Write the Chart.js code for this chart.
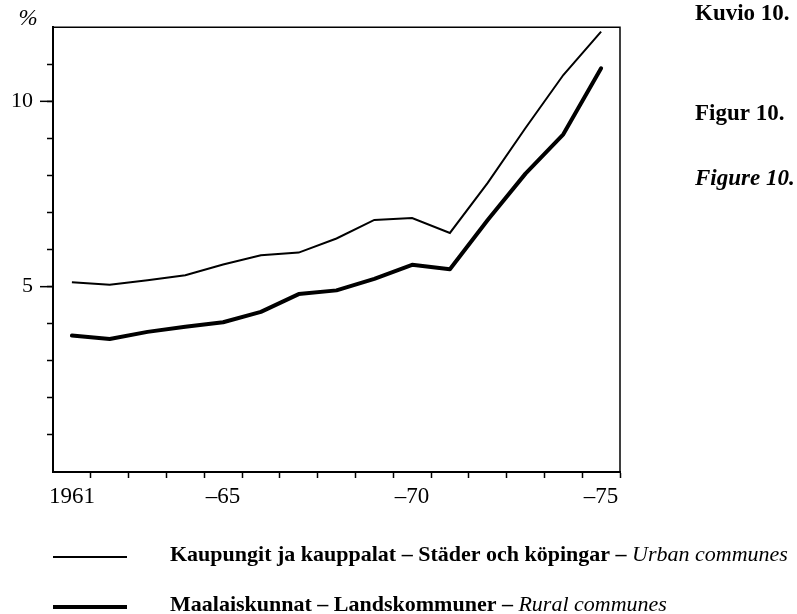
<!DOCTYPE html>
<html>
<head>
<meta charset="utf-8">
<script src="https://cdn.jsdelivr.net/npm/chart.js@4"></script>
<style>
  html, body { margin: 0; padding: 0; background: #fff; }
  canvas { display: block; }
</style>
</head>
<body>
<canvas id="lineChart" width="797" height="614"></canvas>
<script>
var years = ['1961', '1962', '1963', '1964', '1965', '1966', '1967', '1968',
             '1969', '1970', '1971', '1972', '1973', '1974', '1975'];
var xTickLabels = ['1961', '', '', '', '\u201365', '', '', '', '', '\u201370', '', '', '', '', '\u201375'];
var yTickValues = [1, 2, 3, 4, 5, 6, 7, 8, 9, 10, 11];
var yTickLabels = { 5: '5', 10: '10' };

// urban communes (thin line)
var urban = [5.12, 5.05, 5.17, 5.31, 5.6, 5.85, 5.92, 6.3, 6.8, 6.85, 6.45, 7.8, 9.28, 10.71, 11.88];
// rural communes (thick line)
var rural = [3.68, 3.59, 3.78, 3.92, 4.04, 4.32, 4.8, 4.9, 5.21, 5.59, 5.47, 6.8, 8.05, 9.11, 10.89];

var seriesLabels = [
  [['Kaupungit ja kauppalat \u2013 St\u00e4der och k\u00f6pingar \u2013 ', 'bold'], ['Urban communes', 'italic']],
  [['Maalaiskunnat \u2013 Landskommuner \u2013 ', 'bold'], ['Rural communes', 'italic']]
];
var figureTitles = [['Kuvio 10.', 'bold'], ['Figur 10.', 'bold'], ['Figure 10.', 'italic bold']];

var serif = '"Liberation Serif", "DejaVu Serif", serif';

var extras = {
  id: 'extras',
  afterDraw: function (chart) {
    var c = chart.ctx, a = chart.chartArea, ys = chart.scales.y;
    c.save();
    c.strokeStyle = '#000';
    // top and right frame
    c.lineWidth = 1.5;
    c.beginPath();
    c.moveTo(a.left, a.top);
    c.lineTo(a.right, a.top);
    c.lineTo(a.right, a.bottom);
    c.stroke();
    // longer ticks at labelled values
    Object.keys(yTickLabels).forEach(function (v) {
      var py = ys.getPixelForValue(+v);
      c.beginPath();
      c.moveTo(a.left - 13, py);
      c.lineTo(a.left, py);
      c.stroke();
    });
    c.fillStyle = '#000';
    c.textBaseline = 'middle';
    // unit
    c.font = 'italic 23px ' + serif;
    c.textAlign = 'center';
    c.fillText('%', 28, 19);
    // figure titles on the right
    c.textAlign = 'left';
    var ty = [14, 114, 179];
    figureTitles.forEach(function (t, i) {
      c.font = t[1] + ' 23px ' + serif;
      c.fillText(t[0], 695, ty[i]);
    });
    // legend
    var ly = [555, 605];
    chart.data.datasets.forEach(function (ds, i) {
      c.lineWidth = ds.borderWidth;
      c.beginPath();
      c.moveTo(53, ly[i] + 2);
      c.lineTo(127, ly[i] + 2);
      c.stroke();
      var x = 170;
      seriesLabels[i].forEach(function (part) {
        c.font = part[1] + ' 22px ' + serif;
        c.fillText(part[0], x, ly[i]);
        x += c.measureText(part[0]).width;
      });
    });
    c.restore();
  }
};

var ctx = document.getElementById('lineChart').getContext('2d');
var myChart = new Chart(ctx, {
  type: 'line',
  data: {
    labels: years,
    datasets: [{
      label: 'Urban communes',
      data: urban,
      borderColor: '#000',
      borderWidth: 2,
      pointRadius: 0,
      tension: 0,
      fill: false
    }, {
      label: 'Rural communes',
      data: rural,
      borderColor: '#000',
      borderWidth: 4,
      pointRadius: 0,
      tension: 0,
      fill: false,
      borderJoinStyle: 'round',
      borderCapStyle: 'round'
    }]
  },
  options: {
    responsive: false,
    animation: false,
    layout: { padding: { top: 19, right: 177, left: 0, bottom: 0 } },
    plugins: {
      legend: { display: false },
      tooltip: { enabled: false }
    },
    scales: {
      x: {
        type: 'category',
        offset: true,
        afterFit: function (scale) { scale.height = 142; },
        border: { display: true, color: '#000', width: 2 },
        grid: {
          offset: true,
          drawOnChartArea: false,
          drawTicks: true,
          tickLength: 6,
          tickWidth: 1.5,
          tickColor: function (context) {
            return (context.index === 0 || context.index >= years.length) ? 'rgba(0,0,0,0)' : '#000';
          }
        },
        ticks: {
          autoSkip: false,
          maxRotation: 0,
          padding: 5,
          color: '#000',
          font: { family: serif, size: 23 },
          callback: function (value, index) { return xTickLabels[index]; }
        }
      },
      y: {
        type: 'linear',
        min: 0,
        max: 12,
        afterFit: function (scale) { scale.width = 53; },
        afterBuildTicks: function (scale) {
          scale.ticks = yTickValues.map(function (v) { return { value: v }; });
        },
        border: { display: true, color: '#000', width: 2 },
        grid: {
          drawOnChartArea: false,
          drawTicks: true,
          tickLength: 6,
          tickWidth: 1.5,
          tickColor: '#000'
        },
        ticks: {
          padding: 14,
          color: '#000',
          font: { family: serif, size: 22 },
          callback: function (value) { return yTickLabels[value] || ''; }
        }
      }
    }
  },
  plugins: [extras]
});
</script>
</body>
</html>
